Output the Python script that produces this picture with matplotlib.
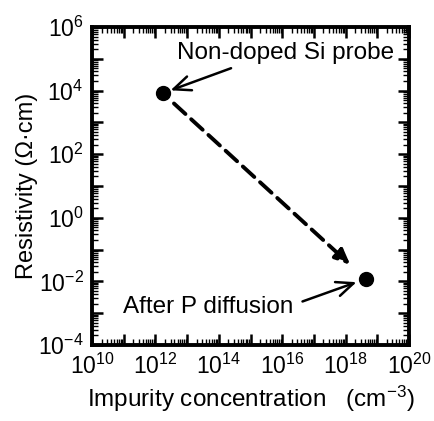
import math
import matplotlib
matplotlib.use('Agg')
import matplotlib.pyplot as plt
from matplotlib.ticker import LogLocator, NullFormatter

plt.rcParams['font.family'] = ['Liberation Sans', 'DejaVu Sans']
plt.rcParams['mathtext.fontset'] = 'custom'
plt.rcParams['mathtext.rm'] = 'Liberation Sans'
plt.rcParams['mathtext.it'] = 'Liberation Sans'

# data
conc = [1.7e12, 4.3e18]          # cm^-3
resist = [8.3e3, 1.2e-2]         # Ohm cm
labels = ['Non-doped Si probe', 'After P diffusion']

fig = plt.figure(figsize=(4.35, 4.21), dpi=100)
ax = fig.add_axes([92/435, 1 - 345/421, 317/435, 318/421])

ax.plot(conc, resist, 'o', color='black', markersize=10, zorder=3)
ax.set_xscale('log')
ax.set_yscale('log')
ax.set_xlim(1e10, 1e20)
ax.set_ylim(1e-4, 1e6)

# dashed arrow between the two states
ax.annotate('', xy=(conc[1], resist[1]), xytext=(conc[0], resist[0]),
            arrowprops=dict(arrowstyle='-|>,head_length=0.9,head_width=0.4',
                            linestyle=(0, (4, 2)), lw=2.8, color='black',
                            shrinkA=11, shrinkB=15))

ax.annotate(labels[0], xy=(conc[0], resist[0]), xytext=(286/435, 1 - 53/421),
            textcoords='figure fraction', ha='center', va='center', fontsize=17.5,
            arrowprops=dict(arrowstyle='->,head_length=0.7,head_width=0.3', lw=1.8,
                            color='black', shrinkA=3, shrinkB=6,
                            relpos=(0.3, 0.0)))
ax.annotate(labels[1], xy=(conc[1], resist[1]), xytext=(208/435, 1 - 307/421),
            textcoords='figure fraction', ha='center', va='center', fontsize=17.5,
            arrowprops=dict(arrowstyle='->,head_length=0.7,head_width=0.3', lw=1.8,
                            color='black', shrinkA=5, shrinkB=7,
                            relpos=(1.0, 0.6)))

ax.xaxis.set_major_locator(LogLocator(base=10, numticks=20))
ax.yaxis.set_major_locator(LogLocator(base=10, numticks=20))
ax.xaxis.set_minor_locator(LogLocator(base=10, subs=range(2, 10), numticks=100))
ax.yaxis.set_minor_locator(LogLocator(base=10, subs=range(2, 10), numticks=100))


def fmt(v, pos=None):
    e = int(round(math.log10(v)))
    if e % 2:
        return ''
    return r'$10^{%d}$' % e


ax.xaxis.set_major_formatter(fmt)
ax.yaxis.set_major_formatter(fmt)
ax.xaxis.set_minor_formatter(NullFormatter())
ax.yaxis.set_minor_formatter(NullFormatter())

ax.tick_params(which='both', direction='in', top=True, right=True, labelsize=16.5)
ax.tick_params(which='major', length=8, width=1.8, pad=6)
ax.tick_params(which='minor', length=4, width=1)
for s in ax.spines.values():
    s.set_linewidth(2.8)

ax.set_xlabel('Impurity concentration   (cm$^{-3}$)', fontsize=17.5, labelpad=4)
ax.set_ylabel('Resistivity (Ω·cm)', fontsize=17, labelpad=0)

fig.savefig('out.png', dpi=100)
